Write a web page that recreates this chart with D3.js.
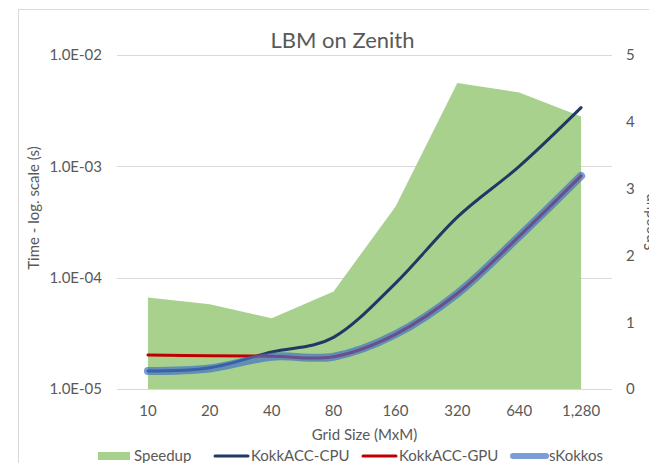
<!DOCTYPE html>
<html>
<head>
<meta charset="utf-8">
<script src="https://cdn.jsdelivr.net/npm/d3@7"></script>
<style>
  html, body { margin: 0; padding: 0; background: #fff; }
  svg { display: block; font-family: Lato, "Open Sans", sans-serif; }
</style>
</head>
<body>
<svg id="chart" width="649" height="463"></svg>
<script>
// Grid sizes (MxM)
const categories = ["10", "20", "40", "80", "160", "320", "640", "1,280"];

// Speedup (right axis)
const speedup = [1.37, 1.27, 1.06, 1.46, 2.73, 4.58, 4.44, 4.08];

// Time per run in seconds (left, log axis)
const kokkaccCpu = [1.45e-5, 1.55e-5, 2.15e-5, 2.91e-5, 8.9e-5, 3.5e-4, 1.0e-3, 3.37e-3];
const kokkaccGpu = [2.02e-5, 1.99e-5, 1.97e-5, 1.95e-5, 3.1e-5, 7.2e-5, 2.35e-4, 8.2e-4];
const sKokkos    = [1.45e-5, 1.53e-5, 1.95e-5, 1.95e-5, 3.1e-5, 7.2e-5, 2.35e-4, 8.2e-4];

// Axis ticks
const timeTicks = [1e-5, 1e-4, 1e-3, 1e-2];
const timeTickLabels = ["1.0E-05", "1.0E-04", "1.0E-03", "1.0E-02"];
const speedupTicks = [0, 1, 2, 3, 4, 5];

const textColor = "#595959";
const gridColor = "#d9d9d9";
const labelSize = 15;

const svg = d3.select("#chart");

const plot = { left: 117, right: 612, top: 55, bottom: 389 };

const x = d3.scaleBand().domain(categories).range([plot.left, plot.right]).padding(0);
const cx = c => x(c) + x.bandwidth() / 2;
const yTime = d3.scaleLog().domain([1e-5, 1e-2]).range([plot.bottom, plot.top]);
const ySpeed = d3.scaleLinear().domain([0, 5]).range([plot.bottom, plot.top]);

// chart frame
svg.append("rect")
  .attr("x", 18.5).attr("y", 9.5)
  .attr("width", 700).attr("height", 500)
  .attr("fill", "none").attr("stroke", gridColor).attr("stroke-width", 1);

// title
svg.append("text")
  .attr("x", 342.5).attr("y", 48)
  .attr("text-anchor", "middle")
  .attr("font-size", 22)
  .attr("fill", textColor)
  .text("LBM on Zenith");

// horizontal gridlines at each decade
svg.append("g").selectAll("line")
  .data(timeTicks)
  .join("line")
  .attr("x1", plot.left).attr("x2", plot.right)
  .attr("y1", d => Math.round(yTime(d)) + 0.5)
  .attr("y2", d => Math.round(yTime(d)) + 0.5)
  .attr("stroke", gridColor).attr("stroke-width", 1);

// speedup area
const area = d3.area()
  .x((d, i) => cx(categories[i]))
  .y0(ySpeed(0))
  .y1(d => ySpeed(d));
svg.append("path")
  .datum(speedup)
  .attr("d", area)
  .attr("fill", "#a9d18e");

// time series lines (smoothed)
const line = d3.line()
  .x((d, i) => cx(categories[i]))
  .y(d => yTime(d))
  .curve(d3.curveCatmullRom.alpha(0));

svg.append("path")
  .datum(kokkaccCpu)
  .attr("d", line)
  .attr("fill", "none")
  .attr("stroke", "#203864")
  .attr("stroke-width", 3)
  .attr("stroke-linecap", "round");

svg.append("path")
  .datum(kokkaccGpu)
  .attr("d", line)
  .attr("fill", "none")
  .attr("stroke", "#c00000")
  .attr("stroke-width", 3)
  .attr("stroke-linecap", "round");

svg.append("path")
  .datum(sKokkos)
  .attr("d", line)
  .attr("fill", "none")
  .attr("stroke", "#4472c4")
  .attr("stroke-opacity", 0.7)
  .attr("stroke-width", 8)
  .attr("stroke-linecap", "round");

// axes
const styleAxis = g => {
  g.select(".domain").remove();
  g.selectAll(".tick line").remove();
  g.selectAll("text").attr("fill", textColor).attr("font-size", labelSize)
    .attr("font-family", "Lato, 'Open Sans', sans-serif");
};

svg.append("g")
  .attr("transform", `translate(${plot.left},0)`)
  .call(d3.axisLeft(yTime)
    .tickValues(timeTicks)
    .tickFormat((d, i) => timeTickLabels[i])
    .tickSize(0).tickPadding(15))
  .call(styleAxis);

svg.append("g")
  .attr("transform", `translate(${plot.right},0)`)
  .call(d3.axisRight(ySpeed)
    .tickValues(speedupTicks)
    .tickFormat(d3.format("d"))
    .tickSize(0).tickPadding(14))
  .call(styleAxis);

svg.append("g")
  .attr("transform", `translate(0,${plot.bottom})`)
  .call(d3.axisBottom(x).tickSize(0).tickPadding(16))
  .call(styleAxis);

// axis titles
svg.append("text")
  .attr("transform", "translate(39,208) rotate(-90)")
  .attr("text-anchor", "middle")
  .attr("font-size", labelSize)
  .attr("fill", textColor)
  .text("Time - log. scale (s)");

svg.append("text")
  .attr("transform", "translate(655,222) rotate(-90)")
  .attr("text-anchor", "middle")
  .attr("font-size", labelSize)
  .attr("fill", textColor)
  .text("Speedup");

svg.append("text")
  .attr("x", (plot.left + plot.right) / 2).attr("y", 440)
  .attr("text-anchor", "middle")
  .attr("font-size", labelSize)
  .attr("fill", textColor)
  .text("Grid Size (MxM)");

// legend
const legendItems = [
  { name: "Speedup", type: "area", color: "#a9d18e", x: 98 },
  { name: "KokkACC-CPU", type: "line", color: "#203864", width: 3, x: 213 },
  { name: "KokkACC-GPU", type: "line", color: "#c00000", width: 3, x: 361 },
  { name: "sKokkos", type: "line", color: "#4472c4", width: 6, opacity: 0.7, x: 511 }
];
const legendY = 456;
const lg = svg.append("g").selectAll("g").data(legendItems).join("g")
  .attr("transform", d => `translate(${d.x},${legendY})`);
lg.filter(d => d.type === "area").append("rect")
  .attr("x", 0).attr("y", -4).attr("width", 32).attr("height", 8)
  .attr("fill", d => d.color);
lg.filter(d => d.type === "line").append("line")
  .attr("x1", 2).attr("x2", 35).attr("y1", 0).attr("y2", 0)
  .attr("stroke", d => d.color)
  .attr("stroke-width", d => d.width)
  .attr("stroke-opacity", d => d.opacity || 1)
  .attr("stroke-linecap", "round");
lg.append("text")
  .attr("x", d => d.type === "area" ? 36 : 38)
  .attr("y", 0).attr("dy", "0.35em")
  .attr("font-size", labelSize)
  .attr("fill", textColor)
  .text(d => d.name);
</script>
</body>
</html>
